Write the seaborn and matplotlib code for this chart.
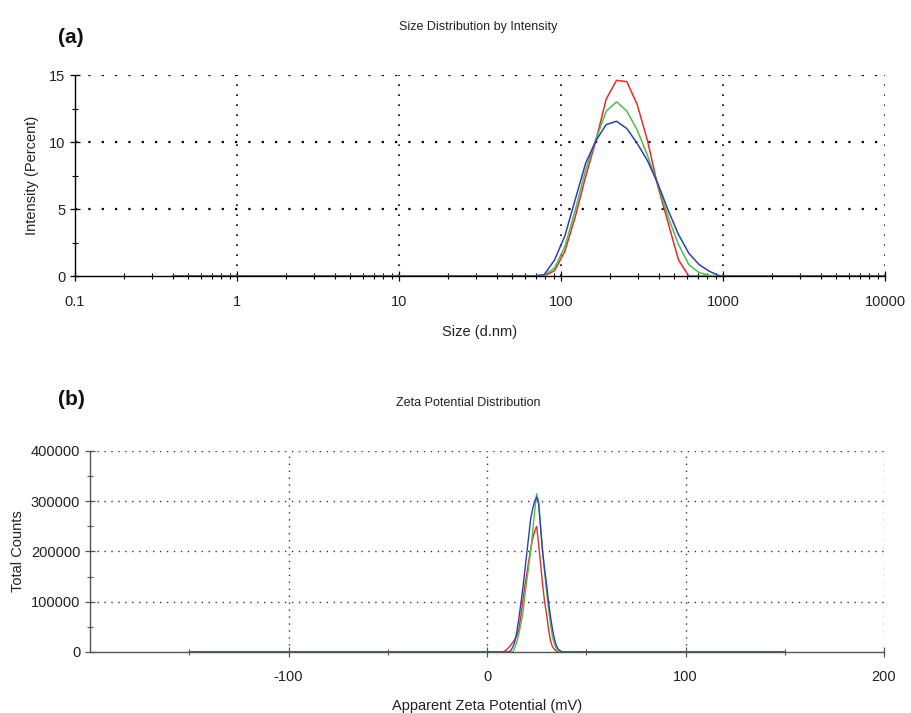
import matplotlib

matplotlib.use("Agg")
import matplotlib.pyplot as plt
import matplotlib.ticker as mticker
import pandas as pd
import seaborn as sns

# Size distribution (DLS), size classes in d.nm
size_nm = [0.4, 68.1, 78.8, 91.3, 105.7, 122.4, 141.8, 164.2, 190.1, 220.2, 255.0,
           295.3, 342.0, 396.1, 458.7, 531.2, 615.1, 712.4, 825.0, 955.4, 1106, 10000]
size_red = [0, 0, 0, 0.4, 1.85, 4.4, 7.4, 10.1, 13.2, 14.6, 14.5,
            12.8, 10.1, 6.7, 3.95, 1.2, 0, 0, 0, 0, 0, 0]
size_green = [0, 0, 0.05, 0.6, 2.2, 4.9, 7.9, 10.2, 12.3, 13.0, 12.3,
              10.9, 9.0, 6.8, 4.4, 2.35, 0.85, 0.25, 0.05, 0, 0, 0]
size_blue = [0, 0, 0.1, 1.2, 3.0, 5.7, 8.4, 10.1, 11.3, 11.55, 11.0,
             9.9, 8.6, 6.9, 4.9, 3.1, 1.7, 0.85, 0.35, 0, 0, 0]

# Zeta potential distribution, mV
zeta_mv = [-150, 8, 9, 10, 11, 12, 13, 14, 15, 16, 17, 18, 19, 20, 21, 22, 23, 24,
           25, 26, 27, 28, 29, 30, 31, 32, 33, 34, 35, 36, 37, 38, 39, 40, 150]
zeta_red = [0, 0, 2000, 5000, 9000, 14000, 19000, 25000, 32000, 45000, 70000, 100000,
            130000, 155000, 180000, 205000, 225000, 240000, 250000, 215000, 175000,
            135000, 100000, 75000, 45000, 22000, 10000, 5000, 1000, 0, 0, 0, 0, 0, 0]
zeta_green = [0, 0, 0, 0, 0, 0, 0, 8000, 20000, 35000, 55000, 75000, 110000, 140000,
              170000, 200000, 240000, 280000, 315000, 300000, 245000, 200000, 160000,
              120000, 85000, 55000, 30000, 15000, 6000, 2000, 0, 0, 0, 0, 0]
zeta_blue = [0, 0, 0, 0, 0, 3000, 10000, 20000, 40000, 65000, 95000, 125000, 160000,
             195000, 230000, 265000, 285000, 300000, 308000, 295000, 250000, 200000,
             165000, 135000, 100000, 70000, 45000, 25000, 12000, 5000, 2000, 0, 0, 0, 0]

run_names = ["run 1", "run 2", "run 3"]
run_colors = {"run 1": "#e52b2b", "run 2": "#4cbf4c", "run 3": "#2f3fb3"}

sns.set_theme(style="white")
plt.rcParams["font.family"] = ["Liberation Sans", "DejaVu Sans"]
plt.rcParams["axes.unicode_minus"] = False

size_df = pd.concat([
    pd.DataFrame({"size": size_nm, "intensity": vals, "run": name})
    for name, vals in zip(run_names, [size_red, size_green, size_blue])
])
zeta_df = pd.concat([
    pd.DataFrame({"zeta": zeta_mv, "counts": vals, "run": name})
    for name, vals in zip(run_names, [zeta_red, zeta_green, zeta_blue])
])

fig = plt.figure(figsize=(9.12, 7.13), dpi=100)
ax_a = fig.add_axes([0.0822, 0.6129, 0.8882, 0.2819])
ax_b = fig.add_axes([0.0987, 0.0856, 0.8706, 0.2819])

# ---- (a) size distribution
sns.lineplot(data=size_df, x="size", y="intensity", hue="run", palette=run_colors,
             hue_order=run_names, linewidth=1.1, legend=False, ax=ax_a, zorder=3)
ax_a.set_xscale("log")
ax_a.set_xlim(0.1, 10000)
ax_a.set_ylim(0, 15)
ax_a.set_xticks([0.1, 1, 10, 100, 1000, 10000])
ax_a.set_xticklabels(["0.1", "1", "10", "100", "1000", "10000"])
ax_a.xaxis.set_minor_locator(mticker.LogLocator(base=10, subs=range(2, 10)))
ax_a.xaxis.set_minor_formatter(mticker.NullFormatter())
ax_a.set_yticks([0, 5, 10, 15])
ax_a.yaxis.set_minor_locator(mticker.MultipleLocator(2.5))
for v in [1, 10, 100, 1000, 10000]:
    ax_a.axvline(v, color="black", linestyle=(0, (1, 5)), linewidth=1.2, zorder=1)
for v in [5, 10, 15]:
    ax_a.axhline(v, color="black", linestyle=(0, (1, 5)), linewidth=1.6, zorder=1)
ax_a.set_xlabel("Size (d.nm)", fontsize=10.5, color="#222222", labelpad=12)
ax_a.set_ylabel("Intensity (Percent)", fontsize=10.5, color="#222222", labelpad=7)
for side in ["top", "right"]:
    ax_a.spines[side].set_visible(False)
for side in ["left", "bottom"]:
    ax_a.spines[side].set_color("black")
    ax_a.spines[side].set_linewidth(1.0)
ax_a.tick_params(which="major", direction="inout", length=7, width=0.9,
                 colors="black", labelcolor="#222222", labelsize=10.5,
                 left=True, bottom=True)
ax_a.tick_params(axis="x", which="major", pad=10)
ax_a.tick_params(which="minor", direction="inout", length=5, width=0.8,
                 colors="black", left=True, bottom=True)

# ---- (b) zeta potential distribution
sns.lineplot(data=zeta_df, x="zeta", y="counts", hue="run", palette=run_colors,
             hue_order=run_names, linewidth=1.0, legend=False, ax=ax_b, zorder=3)
ax_b.set_xlim(-200, 200)
ax_b.set_ylim(0, 400000)
ax_b.set_xticks([-100, 0, 100, 200])
ax_b.xaxis.set_minor_locator(mticker.FixedLocator([-150, -50, 50, 150]))
ax_b.set_yticks([0, 100000, 200000, 300000, 400000])
ax_b.yaxis.set_major_formatter(mticker.FormatStrFormatter("%d"))
ax_b.yaxis.set_minor_locator(mticker.MultipleLocator(50000))
for v in [-100, 0, 100, 200]:
    ax_b.axvline(v, color="#333333", linestyle=(0, (1, 4)), linewidth=1.0, zorder=1)
for v in [100000, 200000, 300000, 400000]:
    ax_b.axhline(v, color="#333333", linestyle=(0, (1, 4)), linewidth=1.0, zorder=1)
ax_b.set_xlabel("Apparent Zeta Potential (mV)", fontsize=10.5, color="#222222", labelpad=11)
ax_b.set_ylabel("Total Counts", fontsize=10.5, color="#222222", labelpad=4)
for side in ["top", "right"]:
    ax_b.spines[side].set_visible(False)
for side in ["left", "bottom"]:
    ax_b.spines[side].set_color("#555555")
    ax_b.spines[side].set_linewidth(1.0)
ax_b.tick_params(which="major", direction="inout", length=7, width=0.9,
                 colors="#555555", labelcolor="#222222", labelsize=10.5,
                 left=True, bottom=True)
ax_b.tick_params(axis="x", which="major", pad=9.5)
ax_b.tick_params(which="minor", direction="inout", length=5, width=0.8,
                 colors="#555555", left=True, bottom=True)

# titles and panel letters
fig.text(0.524, 0.962, "Size Distribution by Intensity", ha="center", va="center",
         fontsize=9, color="#222222")
fig.text(0.513, 0.435, "Zeta Potential Distribution", ha="center", va="center",
         fontsize=9, color="#222222")
fig.text(0.064, 0.948, "(a)", ha="left", va="center", fontsize=15,
         fontweight="bold", color="#111111")
fig.text(0.064, 0.44, "(b)", ha="left", va="center", fontsize=15,
         fontweight="bold", color="#111111")

fig.savefig("out.png", dpi=100, facecolor="white")
